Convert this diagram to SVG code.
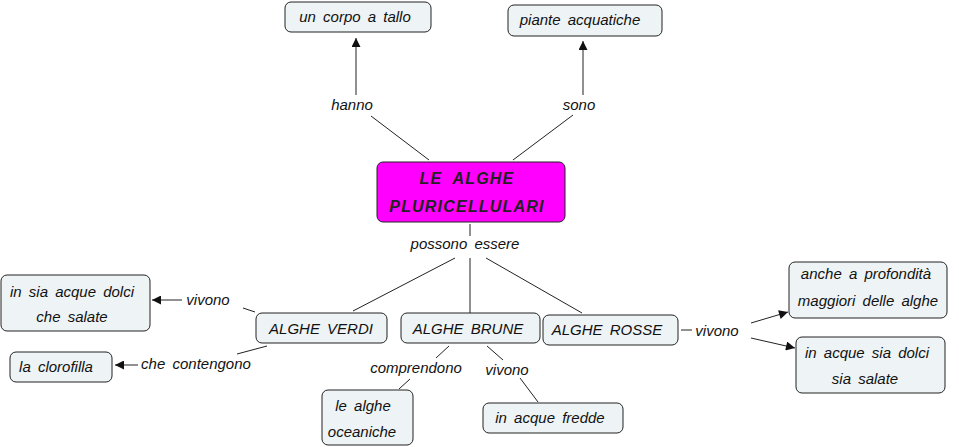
<svg xmlns="http://www.w3.org/2000/svg" width="959" height="447" viewBox="0 0 959 447">
<style>
.n{fill:#eef3f5;stroke:#222;stroke-width:1}
.t{font-family:"Liberation Sans",Arial,sans-serif;font-size:15px;font-style:italic;fill:#111;text-anchor:middle;word-spacing:3px}
.title{font-family:"Liberation Sans",Arial,sans-serif;font-size:16px;font-weight:bold;font-style:italic;fill:#222;text-anchor:middle;letter-spacing:1.2px;word-spacing:5px}
.c{stroke:#222;stroke-width:1;fill:none}
</style>
<defs>
<marker id="ar" viewBox="0 0 10 10" refX="10" refY="5" markerWidth="10" markerHeight="9" markerUnits="userSpaceOnUse" orient="auto">
<path d="M0,0 L10,5 L0,10 z" fill="#111"/>
</marker>
</defs>
<rect width="959" height="447" fill="#ffffff"/>
<g id="connectors">
<line class="c" x1="356" y1="95" x2="356" y2="38" marker-end="url(#ar)"/>
<line class="c" x1="371" y1="116" x2="429" y2="160"/>
<line class="c" x1="583" y1="95" x2="583" y2="41" marker-end="url(#ar)"/>
<line class="c" x1="513" y1="160" x2="573" y2="115"/>
<line class="c" x1="470" y1="224" x2="470" y2="236"/>
<line class="c" x1="455" y1="258" x2="353" y2="311"/>
<line class="c" x1="470" y1="258" x2="470" y2="313"/>
<line class="c" x1="486" y1="258" x2="582" y2="313"/>
<line class="c" x1="255" y1="312" x2="243" y2="308"/>
<line class="c" x1="182" y1="300" x2="152" y2="300" marker-end="url(#ar)"/>
<line class="c" x1="267" y1="346" x2="237" y2="354"/>
<line class="c" x1="138" y1="365" x2="115" y2="365" marker-end="url(#ar)"/>
<line class="c" x1="449" y1="346" x2="436" y2="358"/>
<line class="c" x1="410" y1="379" x2="399" y2="389"/>
<line class="c" x1="487" y1="346" x2="503" y2="360"/>
<line class="c" x1="520" y1="378" x2="538" y2="402"/>
<line class="c" x1="681" y1="330" x2="692" y2="330"/>
<line class="c" x1="751" y1="323" x2="788" y2="312" marker-end="url(#ar)"/>
<line class="c" x1="751" y1="338" x2="795" y2="348" marker-end="url(#ar)"/>
</g>
<g id="link-labels">
<text class="t" x="352" y="110">hanno</text>
<text class="t" x="579" y="110">sono</text>
<text class="t" x="465" y="249">possono essere</text>
<text class="t" x="208" y="305">vivono</text>
<text class="t" x="196" y="369">che contengono</text>
<text class="t" x="416" y="373">comprendono</text>
<text class="t" x="507" y="375">vivono</text>
<text class="t" x="717" y="336">vivono</text>
</g>
<g id="node-root">
<rect x="377" y="162" width="188" height="60" rx="6" fill="#ff00ff" stroke="#222"/>
<text class="title" x="467" y="184">LE ALGHE</text>
<text class="title" x="467" y="212">PLURICELLULARI</text>
</g>
<g id="node-tallo">
<rect class="n" x="285" y="2" width="146" height="30" rx="6"/>
<text class="t" x="355" y="22">un corpo a tallo</text>
</g>
<g id="node-piante">
<rect class="n" x="508" y="5" width="154" height="31" rx="6"/>
<text class="t" x="580" y="25">piante acquatiche</text>
</g>
<g id="node-verdi">
<rect class="n" x="256" y="313" width="131" height="30" rx="6"/>
<text class="t" x="321" y="334">ALGHE VERDI</text>
</g>
<g id="node-brune">
<rect class="n" x="401" y="313" width="139" height="30" rx="6"/>
<text class="t" x="468" y="334">ALGHE BRUNE</text>
</g>
<g id="node-rosse">
<rect class="n" x="543" y="315" width="135" height="30" rx="6"/>
<text class="t" x="607" y="335">ALGHE ROSSE</text>
</g>
<g id="node-dolci-salate">
<rect class="n" x="1" y="275" width="149" height="56" rx="6"/>
<text class="t" x="72" y="297">in sia acque dolci</text>
<text class="t" x="72" y="322">che salate</text>
</g>
<g id="node-clorofilla">
<rect class="n" x="10" y="352" width="102" height="30" rx="6"/>
<text class="t" x="56" y="372">la clorofilla</text>
</g>
<g id="node-oceaniche">
<rect class="n" x="322" y="390" width="91" height="55" rx="6"/>
<text class="t" x="363" y="411">le alghe</text>
<text class="t" x="362" y="437">oceaniche</text>
</g>
<g id="node-fredde">
<rect class="n" x="483" y="403" width="140" height="30" rx="6"/>
<text class="t" x="550" y="423">in acque fredde</text>
</g>
<g id="node-profondita">
<rect class="n" x="789" y="262" width="158" height="56" rx="6"/>
<text class="t" x="866" y="279">anche a profondità</text>
<text class="t" x="868" y="306">maggiori delle alghe</text>
</g>
<g id="node-acque-sia">
<rect class="n" x="796" y="337" width="149" height="56" rx="6"/>
<text class="t" x="867" y="358">in acque sia dolci</text>
<text class="t" x="865" y="384">sia salate</text>
</g>
</svg>
